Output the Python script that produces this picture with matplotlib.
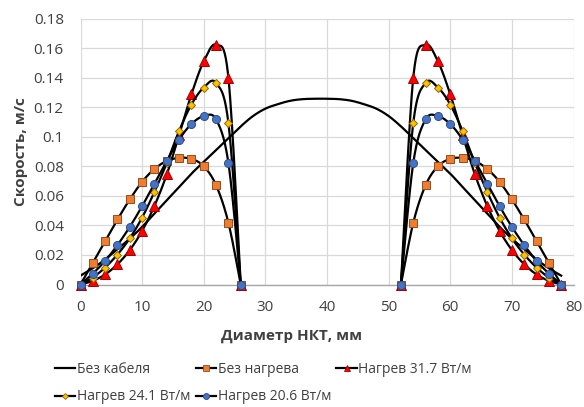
import numpy as np
import matplotlib
matplotlib.use("Agg")
import matplotlib.pyplot as plt
from matplotlib.lines import Line2D

plt.rcParams['font.family'] = ['Open Sans', 'DejaVu Sans']

# Distance across the tubing, mm
x_pipe = [0, 2, 4, 6, 8, 10, 12, 14, 16, 18, 20, 22, 24, 26, 28, 30, 32, 34, 36, 38,
          40, 42, 44, 46, 48, 50, 52, 54, 56, 58, 60, 62, 64, 66, 68, 70, 72, 74, 76, 78]
x_left = [0, 2, 4, 6, 8, 10, 12, 14, 16, 18, 20, 22, 24, 26]
x_right = [52, 54, 56, 58, 60, 62, 64, 66, 68, 70, 72, 74, 76, 78]

# Velocity, m/s
no_cable = [0.006, 0.011, 0.017, 0.024, 0.031, 0.039, 0.048, 0.057, 0.066, 0.075,
            0.083, 0.091, 0.099, 0.107, 0.114, 0.119, 0.122, 0.1243, 0.1254, 0.1257,
            0.1257, 0.1254, 0.1243, 0.122, 0.119, 0.114, 0.107, 0.099, 0.091, 0.083,
            0.075, 0.066, 0.057, 0.048, 0.039, 0.031, 0.024, 0.017, 0.011, 0.006]

no_heat_left = [0, 0.0147, 0.0294, 0.044, 0.0576, 0.0695, 0.0782, 0.0836, 0.0857,
                0.085, 0.080, 0.0672, 0.0418, 0]
no_heat_right = [0, 0.0418, 0.0672, 0.080, 0.085, 0.0857, 0.0836, 0.0782, 0.0695,
                 0.0576, 0.044, 0.0294, 0.0147, 0]

heat_317_left = [0, 0.0025, 0.0068, 0.0137, 0.0233, 0.0363, 0.0532, 0.0745, 0.101,
                 0.1287, 0.151, 0.1622, 0.140, 0]
heat_317_right = [0, 0.140, 0.1622, 0.151, 0.1287, 0.101, 0.0745, 0.0532, 0.0363,
                  0.0233, 0.0137, 0.0068, 0.0025, 0]

heat_241_left = [0, 0.0047, 0.0115, 0.0203, 0.0313, 0.0453, 0.0627, 0.0822, 0.1039,
                 0.1218, 0.1333, 0.1364, 0.1093, 0]
heat_241_right = [0, 0.1093, 0.1364, 0.1333, 0.1218, 0.1039, 0.0822, 0.0627, 0.0453,
                  0.0313, 0.0203, 0.0115, 0.0047, 0]

heat_206_left = [0, 0.0074, 0.016, 0.0267, 0.039, 0.053, 0.0683, 0.0836, 0.0981,
                 0.1086, 0.1139, 0.1117, 0.0823, 0]
heat_206_right = [0, 0.0823, 0.1117, 0.1139, 0.1086, 0.0981, 0.0836, 0.0683, 0.053,
                  0.039, 0.0267, 0.016, 0.0074, 0]

labels = ['Без кабеля', 'Без нагрева', 'Нагрев 31.7 Вт/м',
          'Нагрев 24.1 Вт/м', 'Нагрев 20.6 Вт/м']
x_ticks = [0, 10, 20, 30, 40, 50, 60, 70, 80]
y_ticks = [0, 0.02, 0.04, 0.06, 0.08, 0.1, 0.12, 0.14, 0.16, 0.18]
y_tick_labels = ['0', '0.02', '0.04', '0.06', '0.08', '0.1', '0.12', '0.14', '0.16', '0.18']

TEXT = '#404040'


def smooth(x, y, steps=24):
    """Smoothed line through the points (cubic Bezier, Catmull-Rom tangents)."""
    pts = np.column_stack([x, y]).astype(float)
    n = len(pts)
    t = np.linspace(0, 1, steps + 1)[1:, None]
    out = [pts[:1]]
    for i in range(n - 1):
        p0 = pts[max(i - 1, 0)]
        p1 = pts[i]
        p2 = pts[i + 1]
        p3 = pts[min(i + 2, n - 1)]
        c1 = p1 + (p2 - p0) / 6
        c2 = p2 - (p3 - p1) / 6
        seg = ((1 - t) ** 3 * p1 + 3 * (1 - t) ** 2 * t * c1
               + 3 * (1 - t) * t ** 2 * c2 + t ** 3 * p2)
        out.append(seg)
    out = np.vstack(out)
    return out[:, 0], out[:, 1]


fig = plt.figure(figsize=(5.84, 4.07), dpi=100)
ax = fig.add_axes([80.5 / 584, 1 - 284.5 / 407, (573.5 - 80.5) / 584, 266 / 407])

lw = 1.6
sx, sy = smooth(x_pipe, no_cable)
ax.plot(sx, sy, color='black', lw=lw, zorder=3)

series = [
    (no_heat_left, no_heat_right, dict(marker='s', ms=5.2, mfc='#ED7D31', mec='#9C4A14')),
    (heat_317_left, heat_317_right, dict(marker='^', ms=6.5, mfc='#FF0000', mec='#A00000')),
    (heat_241_left, heat_241_right, dict(marker='D', ms=4, mfc='#FFC000', mec='#8F6B00')),
    (heat_206_left, heat_206_right, dict(marker='o', ms=5.8, mfc='#4472C4', mec='#2F4F8A')),
]

z = 4
for left, right, mk in series:
    for xs, ys in ((x_left, left), (x_right, right)):
        sx, sy = smooth(xs, ys)
        ax.plot(sx, sy, color='black', lw=lw, zorder=z)
        ax.plot(xs, ys, ls='none', mew=0.7, zorder=z + 0.5, clip_on=False, **mk)
    z += 1

ax.set_xlim(0, 80)
ax.set_ylim(0, 0.18)
ax.set_xticks(x_ticks)
ax.set_yticks(y_ticks)
ax.set_yticklabels(y_tick_labels)
ax.grid(True, color='#D9D9D9', lw=0.9, zorder=0)
ax.set_axisbelow(True)
for side in ('left', 'top', 'right'):
    ax.spines[side].set_visible(False)
ax.spines['bottom'].set_color('#A6A6A6')
ax.spines['bottom'].set_linewidth(1.0)
ax.tick_params(length=0, labelsize=11, colors=TEXT)
ax.tick_params(axis='x', pad=11)
ax.tick_params(axis='y', pad=12)

fig.text(0.5, 1 - 336 / 407, 'Диаметр НКТ, мм', ha='center', va='center',
         fontsize=11, fontweight='bold', color=TEXT)
fig.text(21 / 584, 1 - 151.5 / 407, 'Скорость, м/с', ha='center', va='center',
         rotation=90, fontsize=11, fontweight='bold', color=TEXT)

# legend proxies; order gives rows "A B C" / "D E" with ncol=3
proxies = [Line2D([], [], color='black', lw=lw)]
for _, _, mk in series:
    small = dict(mk)
    small['ms'] = mk['ms'] * 0.75
    proxies.append(Line2D([], [], color='black', lw=lw, mew=0.6, **small))
order = [0, 3, 1, 4, 2]
fig.legend([proxies[i] for i in order], [labels[i] for i in order], ncol=3,
           loc='upper left', bbox_to_anchor=(55 / 584, 1 - 362 / 407),
           frameon=False, fontsize=10, handlelength=1.45, handletextpad=0.12,
           columnspacing=0.4, labelspacing=0.9, borderpad=0, borderaxespad=0,
           labelcolor=TEXT)

fig.savefig('out.png', dpi=100)
